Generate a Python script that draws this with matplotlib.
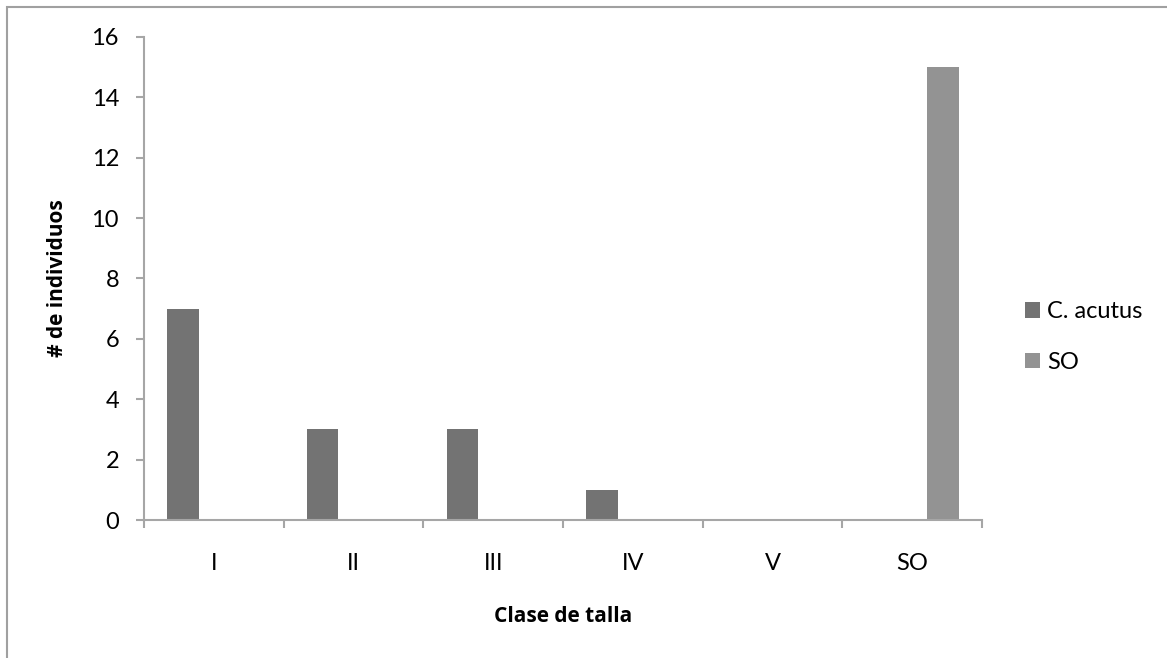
import matplotlib
matplotlib.use("Agg")
import matplotlib.pyplot as plt
import numpy as np
from matplotlib.patches import Rectangle

categories = ["I", "II", "III", "IV", "V", "SO"]
c_acutus = [7, 3, 3, 1, 0, 0]
so = [0, 0, 0, 0, 0, 15]
series_names = ["C. acutus", "SO"]

DARK = "#737373"
LIGHT = "#939393"
AXIS = "#a6a6a6"
FS = 17

plt.rcParams["font.family"] = ["Lato", "DejaVu Sans"]
BOLD = ["Open Sans", "DejaVu Sans"]

fig = plt.figure(figsize=(11.67, 6.58), dpi=100)
ax = fig.add_axes([0.1234, 0.2097, 0.718, 0.7341])

x = np.arange(len(categories))
w = 0.225
ax.bar(x - 0.22, c_acutus, w, color=DARK, label=series_names[0])
ax.bar(x + 0.22, so, w, color=LIGHT, label=series_names[1])

ax.set_xlim(-0.5, len(categories) - 0.5)
ax.set_ylim(0, 16)
ax.set_yticks(range(0, 17, 2))
ax.set_xticks(x)
ax.set_xticklabels(categories)
ax.set_xticks(np.arange(-0.5, len(categories)), minor=True)

for s in ["top", "right"]:
    ax.spines[s].set_visible(False)
for s in ["left", "bottom"]:
    ax.spines[s].set_color(AXIS)
    ax.spines[s].set_linewidth(1.5)

ax.tick_params(axis="y", length=6, width=1.5, color=AXIS, labelsize=FS, pad=12)
ax.tick_params(axis="x", which="major", length=0, labelsize=FS, pad=24)
ax.tick_params(axis="x", which="minor", length=6, width=1.5, color=AXIS)

fig.text(58 / 1167, 1 - 278 / 658, "# de individuos", fontsize=15,
         family=BOLD, fontweight="bold", rotation=90, ha="center", va="center")
fig.text(563 / 1167, 1 - 616 / 658, "Clase de talla", fontsize=15,
         family=BOLD, fontweight="bold", ha="center", va="center")

ax.legend(loc="center left", bbox_to_anchor=(1025 / 1167, 1 - 337 / 658),
          bbox_transform=fig.transFigure, frameon=False, fontsize=FS,
          borderpad=0, borderaxespad=0, handlelength=0.64, handleheight=0.64,
          handletextpad=0.3, labelspacing=1.25)

fig.patches.append(Rectangle((7 / 1167, -0.1), 1.2, 1 - 7 / 658 + 0.1,
                             transform=fig.transFigure, fill=False,
                             edgecolor="#a0a0a0", linewidth=1.5))

fig.savefig("out.png", dpi=100)
